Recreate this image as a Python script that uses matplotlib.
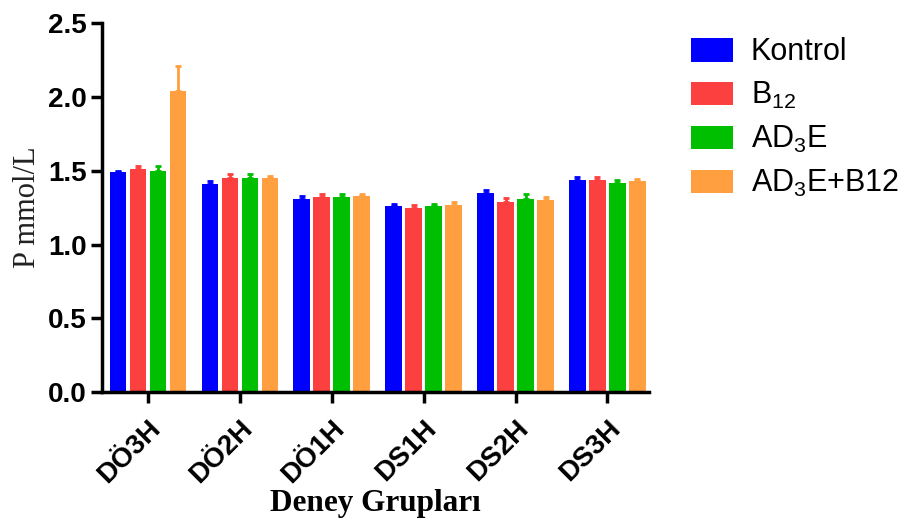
import numpy as np
import matplotlib.pyplot as plt
from matplotlib.patches import Patch

plt.rcParams['mathtext.fontset'] = 'custom'
plt.rcParams['mathtext.rm'] = 'Liberation Sans'
plt.rcParams['mathtext.it'] = 'Liberation Sans'

# Data
groups = ['DÖ3H', 'DÖ2H', 'DÖ1H', 'DS1H', 'DS2H', 'DS3H']
kontrol = [1.49, 1.41, 1.31, 1.26, 1.35, 1.44]
b12 = [1.51, 1.45, 1.32, 1.25, 1.29, 1.44]
ad3e = [1.50, 1.45, 1.32, 1.26, 1.31, 1.42]
ad3e_b12 = [2.04, 1.45, 1.33, 1.27, 1.30, 1.43]
kontrol_err = [0.01, 0.02, 0.02, 0.015, 0.02, 0.02]
b12_err = [0.02, 0.03, 0.02, 0.02, 0.025, 0.02]
ad3e_err = [0.03, 0.03, 0.02, 0.015, 0.03, 0.02]
ad3e_b12_err = [0.17, 0.015, 0.015, 0.02, 0.02, 0.015]

labels = ['Kontrol', 'B$_{12}$', 'AD$_3$E', 'AD$_3$E+B12']
colors = ['#0000ff', '#fc4040', '#00bf00', '#ff9f40']
series = [kontrol, b12, ad3e, ad3e_b12]
errors = [kontrol_err, b12_err, ad3e_err, ad3e_b12_err]

fig = plt.figure(figsize=(9.1, 5.29), dpi=100)
ax = fig.add_axes([0.112, 0.259, 0.601, 0.697])

x = np.arange(len(groups))
step = 0.2175
width = 0.18
for k, (vals, err, c) in enumerate(zip(series, errors, colors)):
    pos = x + (k - 1.5) * step
    ax.bar(pos, vals, width=width, color=c,
           yerr=[np.zeros(len(err)), err], ecolor=c, capsize=2.5,
           error_kw=dict(elinewidth=2, capthick=2))

ax.set_xlim(-0.5, 5.45)
ax.set_ylim(0, 2.5)
ax.set_yticks(np.arange(0, 2.51, 0.5))
ax.set_yticklabels([f'{v:.1f}' for v in np.arange(0, 2.51, 0.5)],
                   fontsize=20, fontweight='bold', family='Liberation Sans')
ax.set_xticks(x)
ax.set_xticklabels(groups, rotation=45, ha='right', rotation_mode='anchor',
                   fontsize=20, fontweight='bold', family='Liberation Sans')

for s in ['top', 'right']:
    ax.spines[s].set_visible(False)
for s in ['left', 'bottom']:
    ax.spines[s].set_linewidth(2.5)
ax.tick_params(axis='both', length=8, width=2.5, pad=3)
ax.tick_params(axis='x', pad=9)

ax.set_ylabel('P mmol/L', fontsize=22, family='Liberation Serif', color='#222222', labelpad=4)
ax.set_xlabel('Deney Grupları', fontsize=22.5, fontweight='bold', family='Liberation Serif', labelpad=0)

handles = [Patch(facecolor=c) for c in colors]
fig.legend(handles, labels, loc='upper left', bbox_to_anchor=(0.743, 0.958),
           frameon=False, prop={'family': 'Liberation Sans', 'size': 22},
           handlelength=1.35, handleheight=0.8, handletextpad=0.6,
           labelspacing=0.42, borderpad=0)

fig.savefig('out.png', dpi=100)
